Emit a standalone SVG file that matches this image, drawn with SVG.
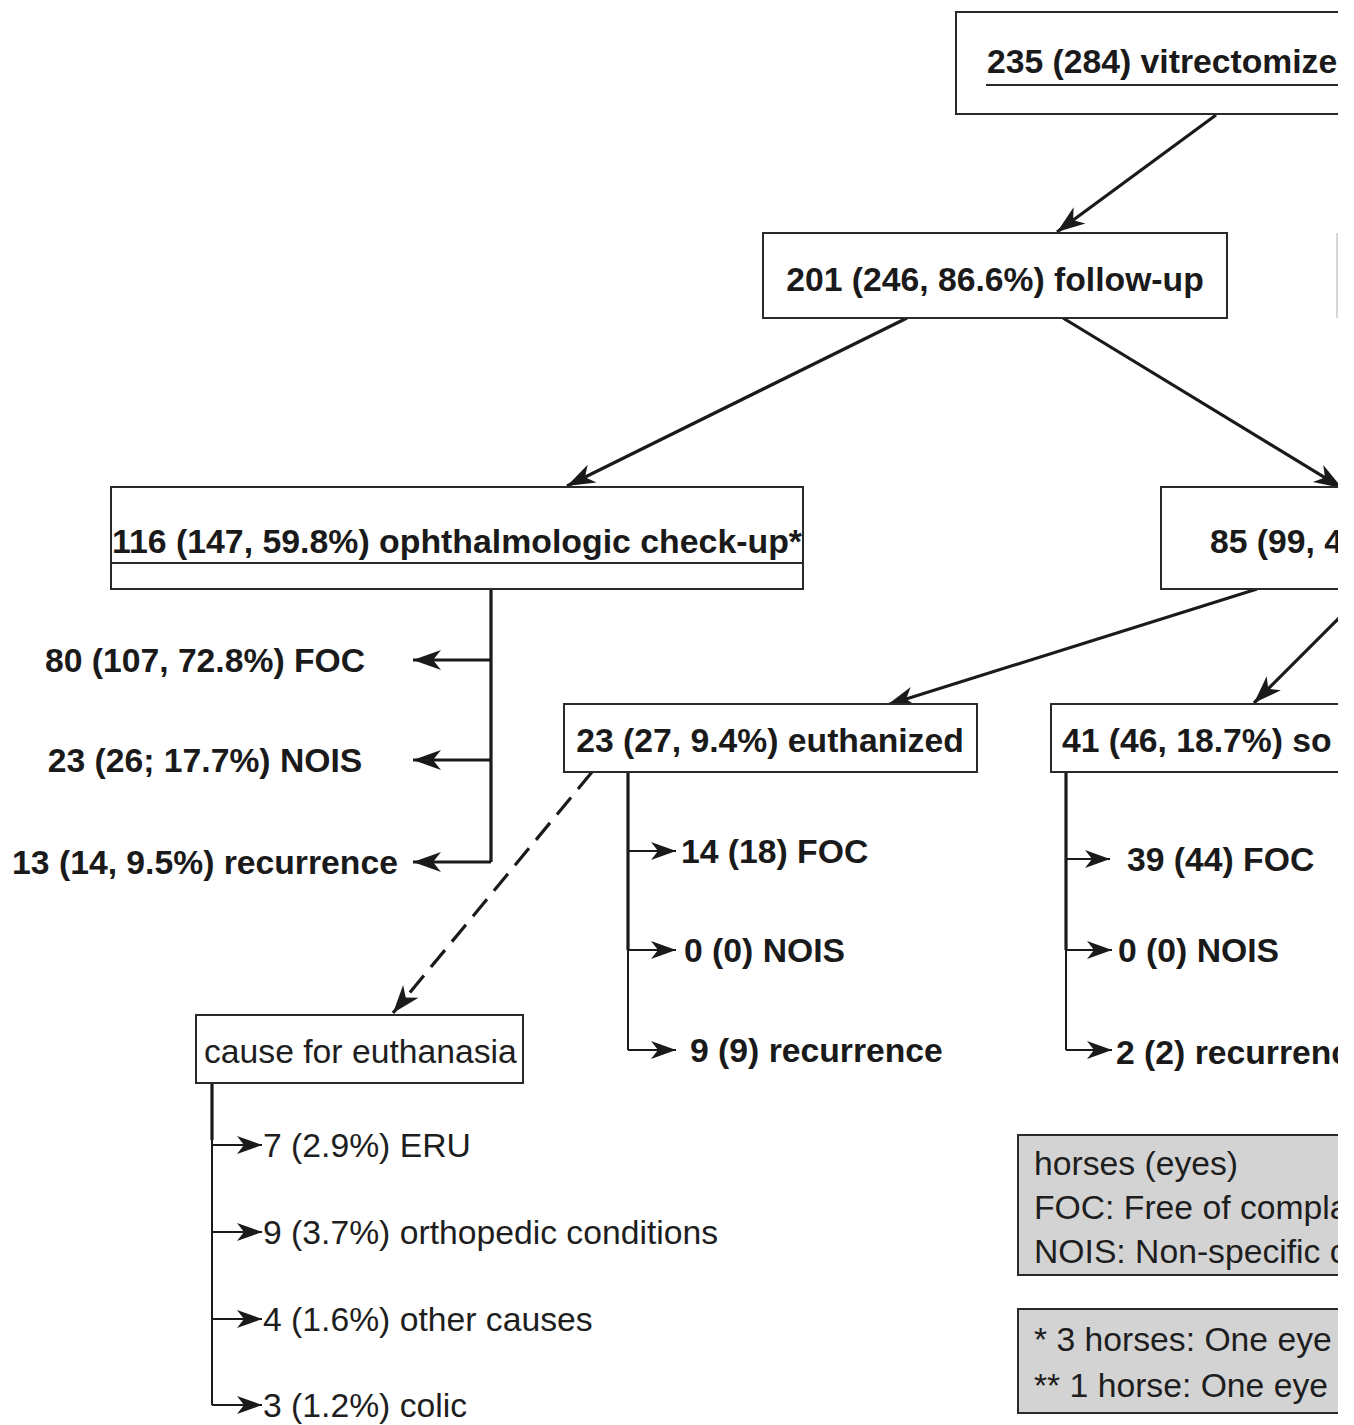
<svg xmlns="http://www.w3.org/2000/svg" width="1354" height="1425" viewBox="0 0 1354 1425">
<style>
.box{fill:#fff;stroke:#2a2a2a;stroke-width:2}
.leg{fill:#d3d3d3;stroke:#2a2a2a;stroke-width:2}
.b{font-family:"Liberation Sans",Arial,sans-serif;font-weight:bold;font-size:33.7px;fill:#1a1a1a}
.r{font-family:"Liberation Sans",Arial,sans-serif;font-size:33.7px;fill:#1e1e1e}
.c{stroke:#1a1a1a;stroke-width:3.2;fill:none}
.t{stroke:#1a1a1a;stroke-width:2;fill:none}
</style>
<defs>
<clipPath id="crop"><rect x="0" y="0" width="1338" height="1425"/></clipPath>
<marker id="ah" viewBox="-30 -11 32 22" refX="0" refY="0" markerWidth="32" markerHeight="22" markerUnits="userSpaceOnUse" orient="auto">
<path d="M0,0 L-28,-10 L-20,0 L-28,10 Z" fill="#1a1a1a"/>
</marker>
<marker id="ahs" viewBox="-27 -10 29 20" refX="0" refY="0" markerWidth="29" markerHeight="20" markerUnits="userSpaceOnUse" orient="auto">
<path d="M0,0 L-25,-9 L-18,0 L-25,9 Z" fill="#1a1a1a"/>
</marker>
</defs>
<rect width="1354" height="1425" fill="#fff"/>
<g clip-path="url(#crop)">
<g id="connectors">
<line class="c" x1="1216" y1="115" x2="1057" y2="232" marker-end="url(#ah)"/>
<line class="c" x1="907" y1="318" x2="567" y2="486" marker-end="url(#ah)"/>
<line class="c" x1="1063" y1="318" x2="1342" y2="488" marker-end="url(#ah)"/>
<line class="c" x1="1257" y1="589" x2="887" y2="705" marker-end="url(#ah)"/>
<line class="c" x1="1345" y1="612" x2="1254" y2="703" marker-end="url(#ah)"/>
<line class="c" x1="592" y1="772" x2="393" y2="1013" stroke-dasharray="22 11" marker-end="url(#ah)"/>
<path class="c" stroke-width="4.5" d="M491,589 V862"/>
<line class="c" x1="491" y1="660" x2="413" y2="660" marker-end="url(#ah)"/>
<line class="c" x1="491" y1="760" x2="413" y2="760" marker-end="url(#ah)"/>
<line class="c" x1="491" y1="862" x2="413" y2="862" marker-end="url(#ah)"/>
<path class="c" d="M628,772 V950"/>
<path class="t" d="M628,950 V1050"/>
<line class="t" x1="628" y1="851" x2="676" y2="851" marker-end="url(#ahs)"/>
<line class="t" x1="628" y1="950" x2="676" y2="950" marker-end="url(#ahs)"/>
<line class="t" x1="628" y1="1050" x2="676" y2="1050" marker-end="url(#ahs)"/>
<path class="c" d="M1066,772 V950"/>
<path class="t" d="M1066,950 V1050"/>
<line class="t" x1="1066" y1="859" x2="1110" y2="859" marker-end="url(#ahs)"/>
<line class="t" x1="1066" y1="950" x2="1112" y2="950" marker-end="url(#ahs)"/>
<line class="t" x1="1066" y1="1050" x2="1112" y2="1050" marker-end="url(#ahs)"/>
<path class="c" stroke-width="4.5" d="M212,1083 V1140"/>
<path class="t" d="M212,1140 V1405"/>
<line class="t" x1="212" y1="1145" x2="262" y2="1145" marker-end="url(#ahs)"/>
<line class="t" x1="212" y1="1232" x2="262" y2="1232" marker-end="url(#ahs)"/>
<line class="t" x1="212" y1="1319" x2="262" y2="1319" marker-end="url(#ahs)"/>
<line class="t" x1="212" y1="1405" x2="262" y2="1405" marker-end="url(#ahs)"/>
<line x1="1337" y1="233" x2="1337" y2="318" stroke="#c8c8c8" stroke-width="1.5"/>
</g>
<g id="n-vitrectomized">
<rect class="box" x="956" y="12" width="460" height="102"/>
<text class="b" x="987" y="73">235 (284) vitrectomize</text>
<line x1="986" y1="85" x2="1400" y2="85" stroke="#2a2a2a" stroke-width="2"/>
</g>
<g id="n-followup">
<rect class="box" x="763" y="233" width="464" height="85"/>
<text class="b" x="995" y="291" text-anchor="middle">201 (246, 86.6%) follow-up</text>
</g>
<g id="n-checkup">
<rect class="box" x="111" y="487" width="692" height="102"/>
<line x1="111" y1="563" x2="803" y2="563" stroke="#2a2a2a" stroke-width="2"/>
<text class="b" x="457" y="553" text-anchor="middle" textLength="690" lengthAdjust="spacingAndGlyphs">116 (147, 59.8%) ophthalmologic check-up*</text>
</g>
<g id="n-85">
<rect class="box" x="1161" y="487" width="260" height="102"/>
<text class="b" x="1210" y="553">85 (99, 4</text>
</g>
<g id="n-checkup-outcomes">
<text class="b" x="205" y="672" text-anchor="middle">80 (107, 72.8%) FOC</text>
<text class="b" x="205" y="772" text-anchor="middle">23 (26; 17.7%) NOIS</text>
<text class="b" x="205" y="874" text-anchor="middle">13 (14, 9.5%) recurrence</text>
</g>
<g id="n-euthanized">
<rect class="box" x="564" y="704" width="413" height="68"/>
<text class="b" x="770" y="752" text-anchor="middle">23 (27, 9.4%) euthanized</text>
</g>
<g id="n-euthanized-outcomes">
<text class="b" x="681" y="863">14 (18) FOC</text>
<text class="b" x="684" y="962">0 (0) NOIS</text>
<text class="b" x="690" y="1062">9 (9) recurrence</text>
</g>
<g id="n-41">
<rect class="box" x="1051" y="704" width="360" height="68"/>
<text class="b" x="1062" y="752">41 (46, 18.7%) so</text>
</g>
<g id="n-41-outcomes">
<text class="b" x="1127" y="871">39 (44) FOC</text>
<text class="b" x="1118" y="962">0 (0) NOIS</text>
<text class="b" x="1116" y="1064">2 (2) recurrenc</text>
</g>
<g id="n-cause">
<rect class="box" x="196" y="1015" width="327" height="68"/>
<text class="r" x="204" y="1063">cause for euthanasia</text>
</g>
<g id="n-cause-items">
<text class="r" x="263" y="1157">7 (2.9%) ERU</text>
<text class="r" x="263" y="1244">9 (3.7%) orthopedic conditions</text>
<text class="r" x="263" y="1331">4 (1.6%) other causes</text>
<text class="r" x="263" y="1417">3 (1.2%) colic</text>
</g>
<g id="legend-1">
<rect class="leg" x="1018" y="1135" width="400" height="140"/>
<text class="r" x="1034" y="1175">horses (eyes)</text>
<text class="r" x="1034" y="1219">FOC: Free of compla</text>
<text class="r" x="1034" y="1263">NOIS: Non-specific c</text>
</g>
<g id="legend-2">
<rect class="leg" x="1018" y="1309" width="400" height="104"/>
<text class="r" x="1034" y="1351">* 3 horses: One eye</text>
<text class="r" x="1034" y="1397">** 1 horse: One eye</text>
</g>
</g>
</svg>
